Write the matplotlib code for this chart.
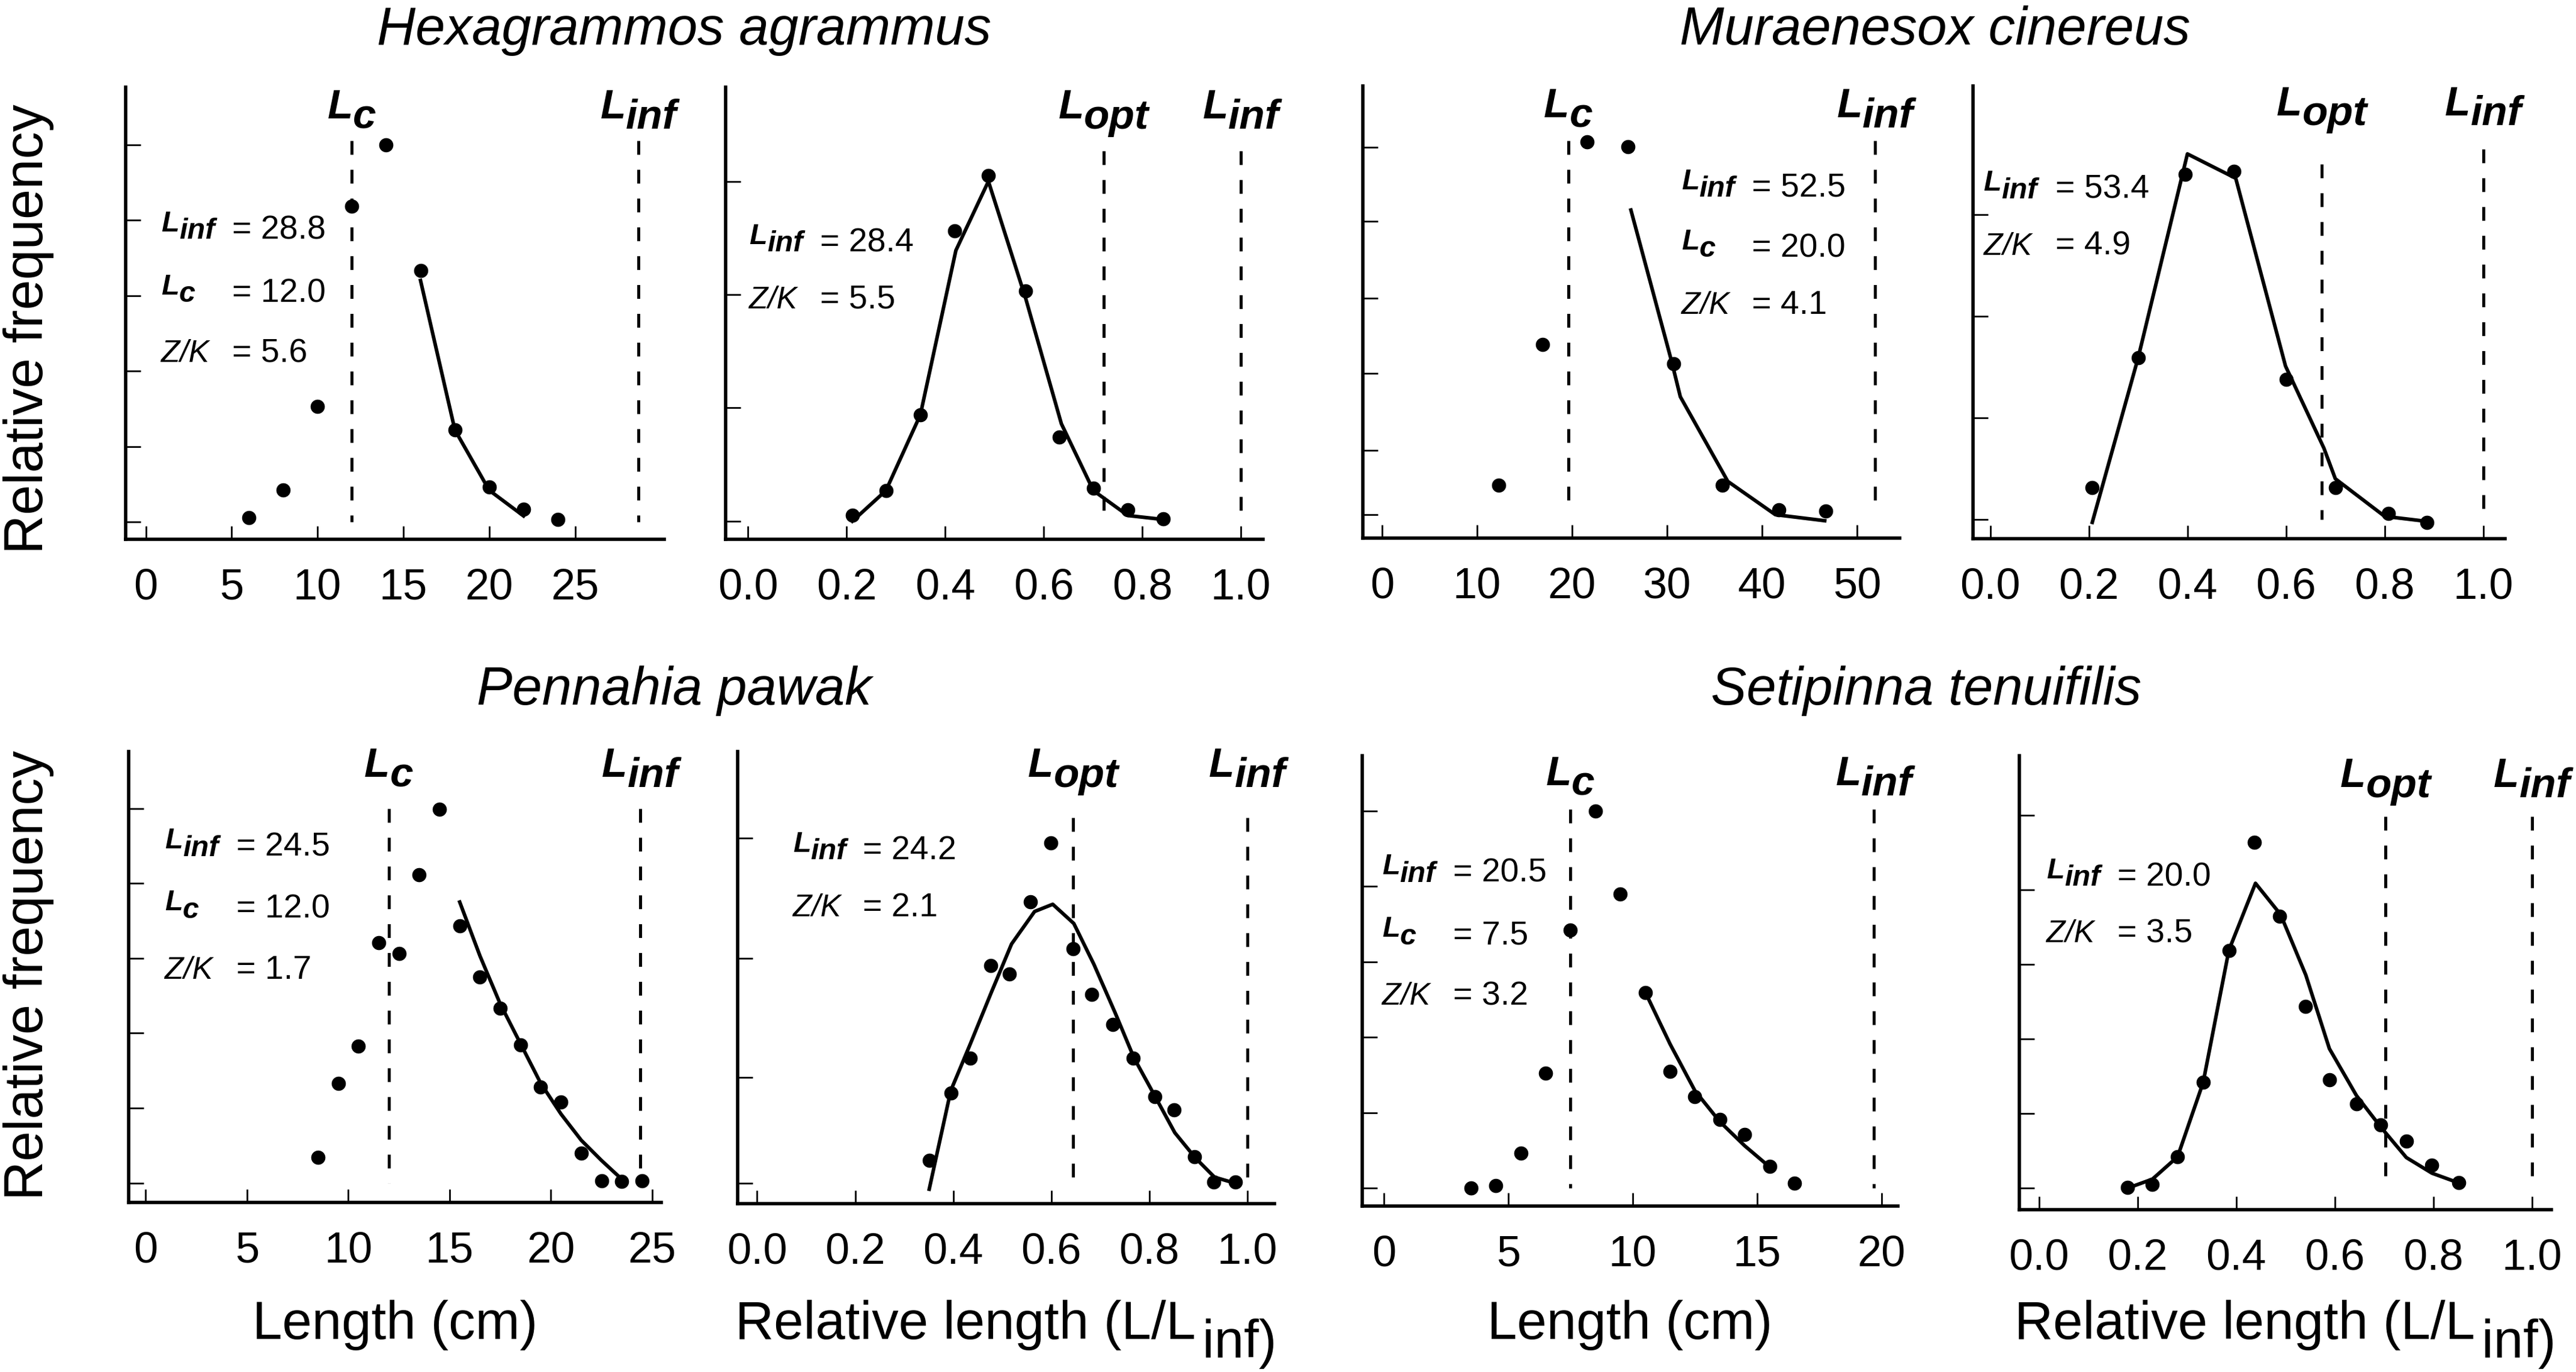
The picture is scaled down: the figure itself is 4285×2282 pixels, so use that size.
import matplotlib
matplotlib.use('Agg')
import matplotlib.pyplot as plt
from matplotlib import transforms

plt.rcParams['font.family'] = ['Liberation Sans', 'DejaVu Sans']
plt.rcParams['lines.scale_dashes'] = False

## data (frequencies in units of the y tick spacing of each panel)
# Hexagrammos agrammus
hex_len = [6, 8, 10, 12, 14, 16, 18, 20, 22, 24]
hex_freq = [0.06, 0.42, 1.53, 4.18, 5.0, 3.33, 1.22, 0.46, 0.17, 0.03]
hex_fit_len = [16, 18, 20, 22]
hex_fit_freq = [3.2, 1.22, 0.42, 0.08]
hex_lines = [12.0, 28.7]            # Lc, Linf
hex_notes = ['28.8', '12.0', '5.6']
hex_rel = [0.212, 0.28, 0.35, 0.419, 0.488, 0.564, 0.632, 0.701, 0.771, 0.843]
hex_rel_freq = [0.05, 0.27, 0.94, 2.56, 3.05, 2.03, 0.74, 0.29, 0.10, 0.02]
hex_rel_fit = [0.212, 0.28, 0.35, 0.422, 0.488, 0.564, 0.636, 0.701, 0.771, 0.843]
hex_rel_fit_freq = [0.0, 0.27, 0.94, 2.39, 3.0, 1.96, 0.86, 0.27, 0.05, 0.015]
hex_rel_lines = [0.722, 1.0]        # Lopt, Linf
hex_rel_notes = ['28.4', '5.5']

# Muraenesox cinereus
mur_len = [12.3, 16.9, 21.6, 25.9, 30.7, 35.8, 41.8, 46.7]
mur_freq = [0.39, 2.25, 4.93, 4.87, 2.0, 0.39, 0.06, 0.05]
mur_fit_len = [26.2, 30.5, 31.4, 36.4, 41.4, 46.6]
mur_fit_freq = [4.03, 2.02, 1.56, 0.44, 0.0, -0.08]
mur_lines = [19.6, 51.9]
mur_notes = ['52.5', '20.0', '4.1']
mur_rel = [0.207, 0.30, 0.395, 0.494, 0.60, 0.70, 0.808, 0.886]
mur_rel_freq = [0.31, 1.59, 3.40, 3.43, 1.38, 0.31, 0.06, -0.03]
mur_rel_fit = [0.207, 0.30, 0.40, 0.498, 0.599, 0.677, 0.70, 0.80, 0.886]
mur_rel_fit_freq = [-0.03, 1.59, 3.6, 3.36, 1.51, 0.70, 0.40, 0.03, -0.02]
mur_rel_lines = [0.673, 1.0]
mur_rel_notes = ['53.4', '4.9']

# Pennahia pawak
pen_len = [8.5, 9.5, 10.5, 11.5, 12.5, 13.5, 14.5, 15.5, 16.5, 17.5, 18.5, 19.5,
           20.5, 21.5, 22.5, 23.5, 24.5]
pen_freq = [0.34, 1.33, 1.83, 3.21, 3.06, 4.11, 4.99, 3.43, 2.75, 2.33, 1.84, 1.28,
            1.08, 0.40, 0.03, 0.02, 0.03]
pen_fit_len = [15.5, 16.5, 17.5, 18.5, 19.5, 20.5, 21.5, 22.5, 23.5]
pen_fit_freq = [3.75, 3.03, 2.39, 1.86, 1.33, 0.92, 0.57, 0.30, 0.05]
pen_lines = [12.0, 24.4]
pen_notes = ['24.5', '12.0', '1.7']
pen_rel = [0.351, 0.395, 0.435, 0.477, 0.515, 0.558, 0.599, 0.644, 0.683, 0.726,
           0.767, 0.811, 0.850, 0.892, 0.931, 0.975]
pen_rel_freq = [0.19, 0.75, 1.04, 1.81, 1.74, 2.34, 2.83, 1.95, 1.57, 1.32, 1.04,
                0.72, 0.61, 0.22, 0.01, 0.01]
pen_rel_fit = [0.351, 0.395, 0.435, 0.477, 0.519, 0.566, 0.603, 0.646, 0.687, 0.730,
               0.769, 0.812, 0.852, 0.894, 0.933, 0.975]
pen_rel_fit_freq = [-0.05, 0.77, 1.16, 1.58, 1.99, 2.26, 2.32, 2.16, 1.82, 1.42, 1.04,
                    0.72, 0.42, 0.21, 0.05, 0.0]
pen_rel_lines = [0.645, 1.0]
pen_rel_notes = ['24.2', '2.1']

# Setipinna tenuifilis
set_len = [3.5, 4.5, 5.5, 6.5, 7.5, 8.5, 9.5, 10.5, 11.5, 12.5, 13.5, 14.5, 15.5, 16.5]
set_freq = [0.0, 0.03, 0.46, 1.52, 3.42, 5.0, 3.90, 2.59, 1.55, 1.21, 0.91, 0.71, 0.29, 0.06]
set_fit_len = [10.5, 11.5, 12.5, 13.5, 14.5, 15.5]
set_fit_freq = [2.60, 1.91, 1.29, 0.88, 0.56, 0.28]
set_lines = [7.5, 19.7]
set_notes = ['20.5', '7.5', '3.2']
set_rel = [0.18, 0.23, 0.281, 0.333, 0.385, 0.437, 0.488, 0.541, 0.589, 0.644, 0.693,
           0.745, 0.797, 0.851]
set_rel_freq = [0.01, 0.05, 0.42, 1.42, 3.19, 4.64, 3.65, 2.44, 1.45, 1.13, 0.85, 0.63,
                0.31, 0.07]
set_rel_fit = [0.18, 0.23, 0.281, 0.333, 0.385, 0.439, 0.49, 0.541, 0.589, 0.644, 0.693,
               0.745, 0.797, 0.851]
set_rel_fit_freq = [0.0, 0.12, 0.42, 1.42, 3.19, 4.09, 3.67, 2.86, 1.87, 1.24, 0.82,
                    0.41, 0.20, 0.07]
set_rel_lines = [0.703, 1.0]
set_rel_notes = ['20.0', '3.5']

species = ['Hexagrammos agrammus', 'Muraenesox cinereus', 'Pennahia pawak', 'Setipinna tenuifilis']

len_ticks = [[0, 5, 10, 15, 20, 25], [0, 10, 20, 30, 40, 50], [0, 5, 10, 15, 20, 25], [0, 5, 10, 15, 20]]
rel_ticks = [0.0, 0.2, 0.4, 0.6, 0.8, 1.0]

## panel layout
panels = [
    dict(pos=[0.0488, 0.6069, 0.2091, 0.3295], x=hex_len, y=hex_freq, fx=hex_fit_len, fy=hex_fit_freq,
         xlim=(-1.17, 30.2), xticks=len_ticks[0], ylim=(-0.23, 5.76), yticks=[0, 1, 2, 3, 4, 5],
         vx=hex_lines, vsub=['c', 'inf'], vtop=[5.05, 5.05], lab_y=0.931,
         notes=hex_notes, nsub=['inf', 'c', 'Z/K'], note_y=[0.665, 0.525, 0.392], note_x=0.066, eq_x=0.197),
    dict(pos=[0.2817, 0.6069, 0.2086, 0.3295], x=hex_rel, y=hex_rel_freq, fx=hex_rel_fit, fy=hex_rel_fit_freq,
         xlim=(-0.045, 1.045), xticks=rel_ticks, ylim=(-0.16, 3.83), yticks=[0, 1, 2, 3],
         vx=hex_rel_lines, vsub=['opt', 'inf'], vtop=[3.27, 3.27], lab_y=0.931,
         notes=hex_rel_notes, nsub=['inf', 'Z/K'], note_y=[0.637, 0.511], note_x=0.044, eq_x=0.175),
    dict(pos=[0.5291, 0.6078, 0.2084, 0.3295], x=mur_len, y=mur_freq, fx=mur_fit_len, fy=mur_fit_freq,
         xlim=(-2.0, 54.5), xticks=len_ticks[1], ylim=(-0.31, 5.67), yticks=[0, 0.85, 1.87, 2.86, 3.88, 4.86],
         vx=mur_lines, vsub=['c', 'inf'], vtop=[4.95, 4.95], lab_y=0.931,
         notes=mur_notes, nsub=['inf', 'c', 'Z/K'], note_y=[0.755, 0.622, 0.496], note_x=0.593, eq_x=0.724),
    dict(pos=[0.7659, 0.6074, 0.2065, 0.3300], x=mur_rel, y=mur_rel_freq, fx=mur_rel_fit, fy=mur_rel_fit_freq,
         xlim=(-0.035, 1.044), xticks=rel_ticks, ylim=(-0.19, 4.27), yticks=[0, 1, 2, 3],
         vx=mur_rel_lines, vsub=['opt', 'inf'], vtop=[3.50, 3.65], lab_y=0.935,
         notes=mur_rel_notes, nsub=['inf', 'Z/K'], note_y=[0.752, 0.627], note_x=0.020, eq_x=0.155),
    dict(pos=[0.0499, 0.1236, 0.2068, 0.3287], x=pen_len, y=pen_freq, fx=pen_fit_len, fy=pen_fit_freq,
         xlim=(-0.85, 25.45), xticks=len_ticks[2], ylim=(-0.26, 5.76), yticks=[0, 1, 2, 3, 4, 5],
         vx=pen_lines, vsub=['c', 'inf'], vtop=[5.0, 5.0], lab_y=0.944,
         notes=pen_notes, nsub=['inf', 'c', 'Z/K'], note_y=[0.768, 0.631, 0.496], note_x=0.068, eq_x=0.202),
    dict(pos=[0.2863, 0.1227, 0.2084, 0.3295], x=pen_rel, y=pen_rel_freq, fx=pen_rel_fit, fy=pen_rel_fit_freq,
         xlim=(-0.04, 1.055), xticks=rel_ticks, ylim=(-0.17, 3.59), yticks=[0, 0.88, 1.87, 2.87],
         vx=pen_rel_lines, vsub=['opt', 'inf'], vtop=[3.04, 3.04], lab_y=0.944,
         notes=pen_rel_notes, nsub=['inf', 'Z/K'], note_y=[0.762, 0.636], note_x=0.103, eq_x=0.233),
    dict(pos=[0.5288, 0.1209, 0.2079, 0.3282], x=set_len, y=set_freq, fx=set_fit_len, fy=set_fit_freq,
         xlim=(-0.87, 20.65), xticks=len_ticks[3], ylim=(-0.24, 5.73), yticks=[0, 1, 2, 3, 4, 5],
         vx=set_lines, vsub=['c', 'inf'], vtop=[5.02, 5.02], lab_y=0.935,
         notes=set_notes, nsub=['inf', 'c', 'Z/K'], note_y=[0.72, 0.581, 0.447], note_x=0.037, eq_x=0.17),
    dict(pos=[0.7839, 0.1183, 0.2065, 0.3308], x=set_rel, y=set_rel_freq, fx=set_rel_fit, fy=set_rel_fit_freq,
         xlim=(-0.04, 1.039), xticks=rel_ticks, ylim=(-0.29, 5.8), yticks=[0, 1, 2, 3, 4, 5],
         vx=set_rel_lines, vsub=['opt', 'inf'], vtop=[4.99, 4.99], lab_y=0.931,
         notes=set_rel_notes, nsub=['inf', 'Z/K'], note_y=[0.714, 0.589], note_x=0.051, eq_x=0.184),
]

fig = plt.figure(figsize=(42.85, 22.82), dpi=100)
to_center = []   # (text, subscript) pairs that get centred on their anchor


def l_sub(ax, x, y, sub, size, drop, trans, rise=0, main='L', weight='bold', style='italic', gap=0):
    # main letter with a lowered subscript of the same size
    tr = transforms.offset_copy(trans, fig=fig, y=rise, units='points')
    t = ax.text(x, y, main, fontsize=size, fontweight=weight, fontstyle=style,
                ha='left', va='baseline', transform=tr, clip_on=False)
    s = ax.annotate(sub, xy=(1, 0), xycoords=t, xytext=(gap, -drop), textcoords='offset points',
                    fontsize=size, fontweight=weight, fontstyle=style, ha='left', va='bottom',
                    annotation_clip=False)
    return t, s


axes = []
for i, p in enumerate(panels):
    ax = fig.add_axes(p['pos'])
    axes.append(ax)
    ax.plot(p['x'], p['y'], 'o', color='black', ms=16, zorder=4, clip_on=False)
    ax.plot(p['fx'], p['fy'], '-', color='black', lw=4.3, zorder=3, clip_on=False)
    for vx, top in zip(p['vx'], p['vtop']):
        ax.plot([vx, vx], [top, 0], color='black', lw=3.6, dashes=(16.5, 18.0), zorder=2)

    ax.set_xlim(p['xlim'])
    ax.set_ylim(p['ylim'])
    ax.set_xticks(p['xticks'])
    if i % 2 == 1:
        ax.set_xticklabels(['%.1f' % v for v in p['xticks']])
    else:
        ax.set_xticklabels(['%d' % v for v in p['xticks']])
    ax.set_yticks(p['yticks'])
    ax.tick_params(axis='x', direction='in', length=16, width=2, labelsize=52, pad=34)
    ax.tick_params(axis='y', direction='in', length=18, width=2, labelleft=False)
    ax.spines[['top', 'right']].set_visible(False)
    ax.spines[['left', 'bottom']].set_linewidth(4)

    # Lc / Lopt / Linf labels above the dashed lines
    for vx, sub in zip(p['vx'], p['vsub']):
        t, s = l_sub(ax, vx, p['lab_y'], sub, 50, 12, ax.get_xaxis_transform())
        to_center.append((t, s))

    # parameter notes
    for val, sub, ny in zip(p['notes'], p['nsub'], p['note_y']):
        if sub == 'Z/K':
            ax.text(p['note_x'], ny, 'Z/K', fontsize=37, fontstyle='italic', ha='left', va='baseline',
                    transform=ax.transAxes)
        else:
            l_sub(ax, p['note_x'], ny, sub, 35, 9, ax.transAxes, rise=9)
        ax.text(p['eq_x'], ny, '= ' + val, fontsize=40, ha='left', va='baseline', transform=ax.transAxes)

# species titles
fig.text(0.2656, 0.9676, species[0], fontsize=64, fontstyle='italic', ha='center', va='baseline')
fig.text(0.7512, 0.9676, species[1], fontsize=64, fontstyle='italic', ha='center', va='baseline')
fig.text(0.2616, 0.4864, species[2], fontsize=64, fontstyle='italic', ha='center', va='baseline')
fig.text(0.7477, 0.4864, species[3], fontsize=64, fontstyle='italic', ha='center', va='baseline')

# y labels
for yc in [0.7603, 0.2892]:
    fig.text(0.0112, yc, 'Relative frequency', fontsize=65, rotation=90, ha='center', va='center')

# x labels on the bottom row
for k in [4, 6]:
    ax = axes[k]
    xc = ax.get_position().x0 + ax.get_position().width / 2
    fig.text(xc, 0.024, 'Length (cm)', fontsize=64, ha='center', va='baseline')
for k in [5, 7]:
    ax = axes[k]
    xc = ax.get_position().x0 + ax.get_position().width / 2
    t, s = l_sub(ax, xc, 0.024, 'inf)', 64, 22, fig.transFigure, main='Relative length (L/L',
                 weight='normal', style='normal', gap=8)
    to_center.append((t, s))

# centre the composite labels on their anchor points
fig.canvas.draw()
r = fig.canvas.get_renderer()
for t, s in to_center:
    w = s.get_window_extent(r).x1 - t.get_window_extent(r).x0
    t.set_transform(transforms.offset_copy(t.get_transform(), fig=fig, x=-w / 2, units='dots'))

fig.savefig('out.png', dpi=100)
